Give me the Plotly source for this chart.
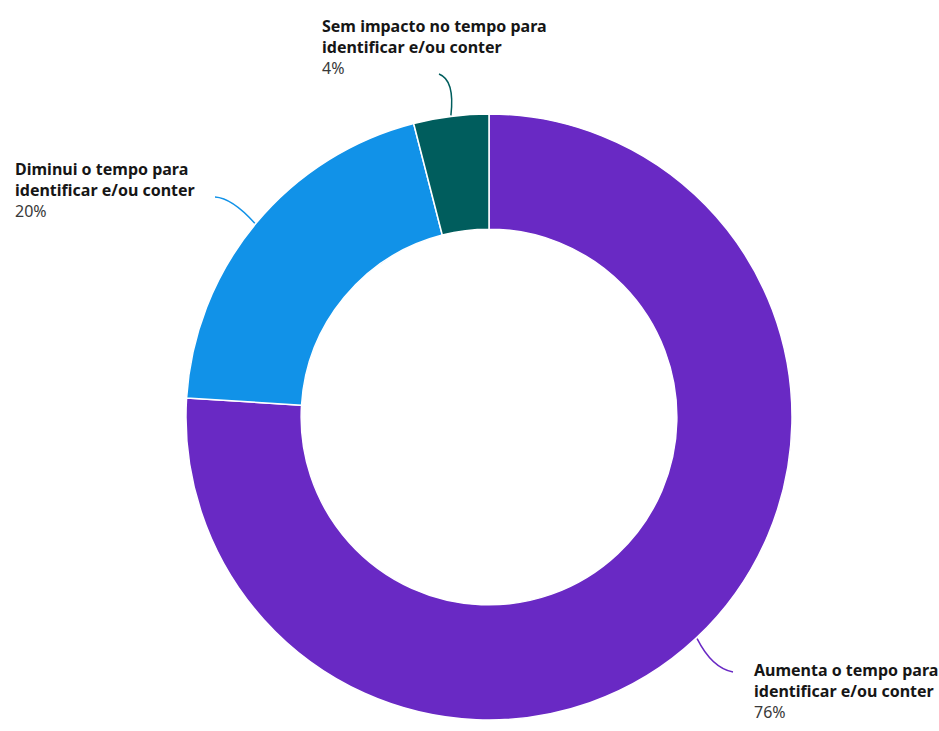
import math
import plotly.graph_objects as go

labels = ["Aumenta o tempo para identificar e/ou conter",
          "Diminui o tempo para identificar e/ou conter",
          "Sem impacto no tempo para identificar e/ou conter"]
label_lines = [["Aumenta o tempo para", "identificar e/ou conter"],
               ["Diminui o tempo para", "identificar e/ou conter"],
               ["Sem impacto no tempo para", "identificar e/ou conter"]]
values = [76, 20, 4]
colors = ["#6929c4", "#1192e8", "#005d5d"]

W, H = 939, 731
CX, CY, R = 489, 417, 303  # pixel centre and outer radius

fig = go.Figure(go.Pie(
    labels=labels, values=values, hole=0.62, sort=False, direction="clockwise",
    rotation=0, marker=dict(colors=colors, line=dict(color="white", width=1.5)),
    textinfo="none", hoverinfo="label+percent", showlegend=False,
    domain=dict(x=[(CX - R) / W, (CX + R) / W], y=[(H - CY - R) / H, (H - CY + R) / H]),
))

def px(x, y):
    return x / W, 1 - y / H

label_pos = [(752, 657), (13, 156), (320, 13)]
leader_end = [(733, 672), (215, 197), (439, 74)]
leader_ctrl = [(712, 668), (232, 198), (455, 80)]

total = sum(values)
start = 0.0
shapes = []
annotations = []
for i, v in enumerate(values):
    mid = start + v / total * 360 / 2
    start += v / total * 360
    a = math.radians(mid)
    sx = CX + (R + 1) * math.sin(a)
    sy = CY - (R + 1) * math.cos(a)
    ex, ey = leader_end[i]
    qx, qy = leader_ctrl[i]
    p0 = px(sx, sy); p1 = px(qx, qy); p2 = px(ex, ey)
    shapes.append(dict(type="path", xref="paper", yref="paper",
                       path=f"M {p0[0]} {p0[1]} Q {p1[0]} {p1[1]} {p2[0]} {p2[1]}",
                       line=dict(color=colors[i], width=1.5)))
    lx, ly = label_pos[i]
    ax_, ay_ = px(lx, ly)
    annotations.append(dict(
        x=ax_, y=ay_, xref="paper", yref="paper", xanchor="left", yanchor="top",
        align="left", showarrow=False,
        text=f"<b>{label_lines[i][0]}<br>{label_lines[i][1]}</b><br><span style='color:#393939'>{v}%</span>",
        font=dict(family="Noto Sans", size=16, color="#161616"),
    ))

fig.update_layout(width=W, height=H, margin=dict(l=0, r=0, t=0, b=0),
                  paper_bgcolor="white", plot_bgcolor="white",
                  shapes=shapes, annotations=annotations)
fig.write_html("out.html", config={"displayModeBar": False},
               post_script="document.body.style.margin='0';document.body.style.overflow='hidden';")
